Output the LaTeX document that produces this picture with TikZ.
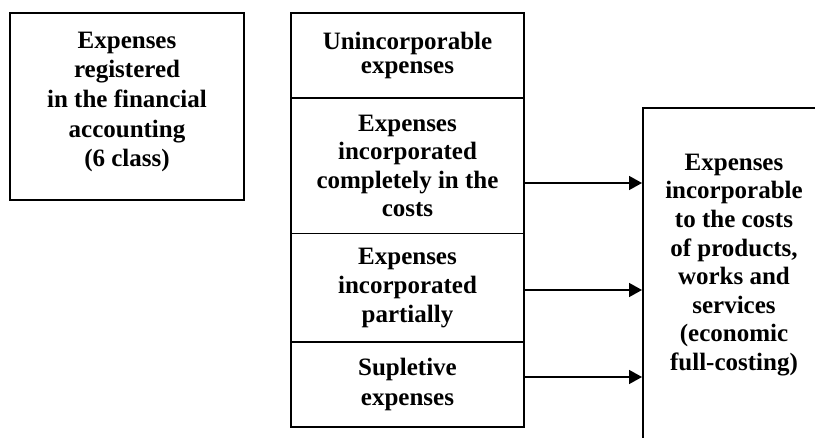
\documentclass[tikz,border=0pt]{standalone}
\usepackage{fontspec}
\setmainfont{Liberation Serif}
\usetikzlibrary{arrows.meta}
\begin{document}
\begin{tikzpicture}[x=1pt,y=-1pt,
  txt/.style={inner sep=0pt, align=center, font=\bfseries\fontsize{25}{28.6}\selectfont},
  box/.style={txt, draw, line width=1.7pt, rectangle},
  frame/.style={draw, line width=1.7pt, rectangle, inner sep=0pt},
  arr/.style={line width=1.6pt, -{Triangle[length=13pt,width=14pt]}}]
\clip (0,0) rectangle (815,438);
\node[frame, minimum width=234pt, minimum height=187pt] (fin) at (127,106.5) {};
\node[txt, font=\bfseries\fontsize{25}{29.7}\selectfont] (fint) at (127,102)
  {Expenses\\registered\\in the financial\\accounting\\(6 class)};
\node[box, minimum width=233pt, minimum height=85pt, font=\bfseries\fontsize{25}{24}\selectfont] (m1) at (407.5,55.5)
  {Unincorporable\\expenses};
\node[box, minimum width=233pt, minimum height=135pt] (m2) at (407.5,166)
  {Expenses\\incorporated\\completely in the\\costs};
\node[box, minimum width=233pt, minimum height=109pt, font=\bfseries\fontsize{25}{29}\selectfont] (m3) at (407.5,288)
  {Expenses\\incorporated\\partially};
\node[box, minimum width=233pt, minimum height=85pt, font=\bfseries\fontsize{25}{30}\selectfont] (m4) at (407.5,384.5)
  {Supletive\\expenses};
\node[frame, minimum width=200pt, minimum height=360pt, anchor=north west] (r) at (642,107) {};
\node[txt] (rt) at (734,265)
  {Expenses\\incorporable\\to the costs\\of products,\\works and\\services\\(economic\\full-costing)};
\draw[arr] ([yshift=-17pt]m2.east) -- ([yshift=-17pt]m2.east -| r.west);
\draw[arr] ([yshift=-2pt]m3.east) -- ([yshift=-2pt]m3.east -| r.west);
\draw[arr] ([yshift=7.5pt]m4.east) -- ([yshift=7.5pt]m4.east -| r.west);
\end{tikzpicture}
\end{document}
